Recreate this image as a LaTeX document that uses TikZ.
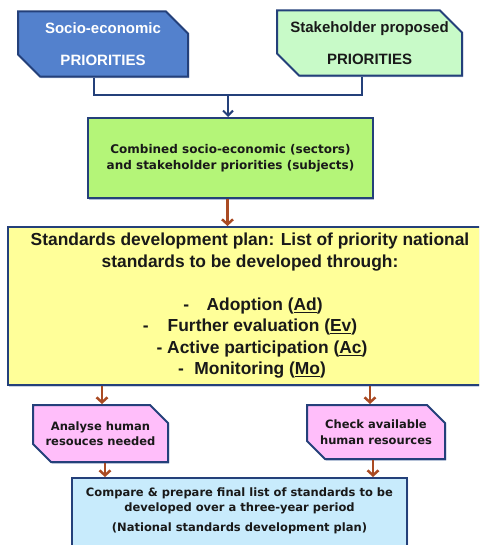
\documentclass[tikz,border=0pt]{standalone}
\usepackage{fontspec}
\setmainfont{Liberation Sans}
\newfontfamily\dejavu{DejaVu Sans}
\usetikzlibrary{shapes.misc,arrows.meta,shadows,calc}
\definecolor{bord}{RGB}{36,64,122}
\definecolor{bluefill}{RGB}{83,129,205}
\definecolor{mint}{RGB}{200,250,200}
\definecolor{lime}{RGB}{180,245,120}
\definecolor{yel}{RGB}{255,255,153}
\definecolor{pink}{RGB}{255,190,250}
\definecolor{lblue}{RGB}{200,235,252}
\definecolor{brownarr}{RGB}{170,75,35}
\definecolor{shadowc}{RGB}{175,188,215}
\definecolor{txt}{RGB}{25,25,25}
\tikzset{
  box/.style={chamfered rectangle, chamfered rectangle corners={north east,south west},
    chamfered rectangle xsep=11pt, chamfered rectangle ysep=11pt,
    draw=bord, line width=2pt, inner sep=0pt, align=center, text=txt,
    drop shadow={shadow xshift=1.2pt, shadow yshift=-1.6pt, fill=shadowc, opacity=1}},
  plainbox/.style={rectangle, draw=bord, line width=2pt, inner sep=0pt,
    drop shadow={shadow xshift=1.2pt, shadow yshift=-1.6pt, fill=shadowc, opacity=1}},
  bigtxt/.style={font=\fontsize{15}{32}\selectfont\bfseries},
  smalltxt/.style={font=\dejavu\fontsize{11.5}{15.5}\selectfont\bfseries},
  midtxt/.style={font=\dejavu\fontsize{12}{16}\selectfont\bfseries},
  blueline/.style={draw=bord, line width=2pt},
  bluearrow/.style={draw=bord, line width=2pt, -{Straight Barb[length=5pt,width=10pt]}},
  brownarrow/.style={draw=brownarr, line width=2.5pt, -{Straight Barb[length=5pt,width=11pt]}},
}
\begin{document}
\begin{tikzpicture}[x=1pt,y=-1pt]
\useasboundingbox (0,0) rectangle (479,545);
\clip (0,0) rectangle (479,545);

% top boxes
\node[box, fill=bluefill, text=white, bigtxt, minimum width=170pt, minimum height=58pt]
  (b1) at (103,44) {Socio-economic\\PRIORITIES};
\node[box, fill=mint, bigtxt, minimum width=185pt, minimum height=59pt]
  (b2) at (369.5,43) {Stakeholder proposed\\PRIORITIES};

% combined box
\node[plainbox, fill=lime, midtxt, text=txt, align=center, minimum width=285pt, minimum height=80pt]
  (b3) at (230.5,158) {Combined socio-economic (sectors)\\and stakeholder priorities (subjects)};

% plan box
\node[box, chamfered rectangle corners=north east, fill=yel, minimum width=478pt, minimum height=158pt]
  (b4) at (247,306) {};
\node[font=\fontsize{17.4}{21.5}\selectfont\bfseries, text=txt, align=center, inner sep=0pt]
  (t4) at (250,306) {Standards development plan: List of priority national\\
  standards to be developed through:\\[21.5pt]
  \hspace*{6pt}-\hspace{1em}Adoption (\underline{Ad})\\
  -\hspace{1.1em}Further evaluation (\underline{Ev})\\
  \hspace*{24pt}- Active participation (\underline{Ac})\\
  \hspace*{4pt}-\hspace{0.6em}Monitoring (\underline{Mo})};

% resource boxes
\node[box, fill=pink, smalltxt, minimum width=135pt, minimum height=57pt, chamfered rectangle xsep=9pt, chamfered rectangle ysep=9pt]
  (b5) at (100.5,433.5) {Analyse human\\resouces needed};
\node[box, fill=pink, smalltxt, minimum width=138pt, minimum height=54pt, chamfered rectangle xsep=9pt, chamfered rectangle ysep=9pt]
  (b6) at (376,432) {Check available\\human resources};

% final box
\node[box, fill=lblue, minimum width=335pt, minimum height=92pt, chamfered rectangle xsep=10pt, chamfered rectangle ysep=14pt]
  (b7) at (239.5,524) {};
\node[smalltxt, text=txt, align=center, inner sep=0pt]
  (t7) at (239.5,510.5) {Compare \& prepare final list of standards to be\\
  developed over a three-year period\\[4pt]
  (National standards development plan)};

% connectors
\coordinate (j) at (228,95);
\draw[blueline] ([xshift=-9pt]b1.south) |- (j);
\draw[blueline] ([xshift=-7.5pt]b2.south) |- (j);
\draw[bluearrow] (j) -- (j |- b3.north);

\draw[brownarrow] ([xshift=-3pt]b3.south) -- ([xshift=-3pt]b3.south |- b4.north);
\draw[brownarrow] ([xshift=1.5pt]b5.north |- b4.south) -- ([xshift=1.5pt]b5.north);
\draw[brownarrow] ([xshift=-6pt]b6.north |- b4.south) -- ([xshift=-6pt]b6.north);
\draw[brownarrow] ([xshift=4.5pt]b5.south) -- ([xshift=4.5pt]b5.south |- b7.north);
\draw[brownarrow] ([xshift=-3pt]b6.south) -- ([xshift=-3pt]b6.south |- b7.north);
\end{tikzpicture}
\end{document}
